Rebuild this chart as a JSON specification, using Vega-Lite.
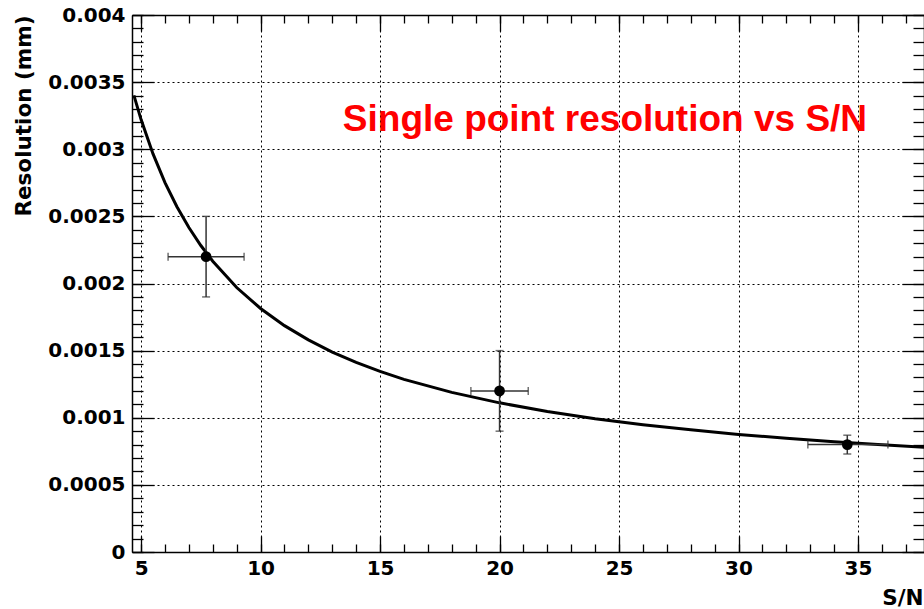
{
  "$schema": "https://vega.github.io/schema/vega-lite/v6.json",
  "width": 792,
  "height": 537,
  "autosize": {"type": "none"},
  "padding": {"left": 132, "top": 15, "right": 0, "bottom": 57},
  "background": "white",
  "config": {
    "view": {"stroke": null},
    "axis": {
      "labelFont": "DejaVu Sans",
      "labelFontWeight": "bold",
      "labelFontSize": 20,
      "labelColor": "black",
      "titleFont": "DejaVu Sans",
      "titleFontWeight": "bold",
      "titleFontSize": 21.5,
      "titleColor": "black",
      "domainColor": "black",
      "domainWidth": 1.5,
      "tickColor": "black",
      "tickWidth": 1.3,
      "gridColor": "black",
      "gridDash": [2, 3],
      "gridWidth": 1,
      "gridOpacity": 1
    }
  },
  "datasets": {
    "curve": [
      {"sn": 4.7, "res": 0.003401},
      {"sn": 5, "res": 0.003221},
      {"sn": 5.5, "res": 0.002965},
      {"sn": 6, "res": 0.002752},
      {"sn": 6.5, "res": 0.002572},
      {"sn": 7, "res": 0.002417},
      {"sn": 7.5, "res": 0.002283},
      {"sn": 8, "res": 0.002166},
      {"sn": 9, "res": 0.00197},
      {"sn": 10, "res": 0.001814},
      {"sn": 11, "res": 0.001686},
      {"sn": 12, "res": 0.00158},
      {"sn": 13, "res": 0.001489},
      {"sn": 14, "res": 0.001412},
      {"sn": 15, "res": 0.001345},
      {"sn": 16, "res": 0.001286},
      {"sn": 18, "res": 0.001189},
      {"sn": 20, "res": 0.001111},
      {"sn": 22, "res": 0.001047},
      {"sn": 24, "res": 0.000993},
      {"sn": 26, "res": 0.000948},
      {"sn": 28, "res": 0.00091},
      {"sn": 30, "res": 0.000876},
      {"sn": 32, "res": 0.000847},
      {"sn": 34, "res": 0.000821},
      {"sn": 36, "res": 0.000798},
      {"sn": 37.8, "res": 0.000779}
    ],
    "pts": [
      {"sn": 7.72, "sn_lo": 6.13, "sn_hi": 9.31, "res": 0.0022, "res_lo": 0.0019, "res_hi": 0.0025},
      {"sn": 20, "sn_lo": 18.8, "sn_hi": 21.2, "res": 0.0012, "res_lo": 0.0009, "res_hi": 0.0015},
      {"sn": 34.55, "sn_lo": 32.9, "sn_hi": 36.25, "res": 0.0008, "res_lo": 0.00073, "res_hi": 0.00087}
    ],
    "note": [
      {"sn": 24.41, "res": 0.003218, "label": "Single point resolution vs S/N"}
    ]
  },
  "resolve": {"axis": {"x": "independent", "y": "independent"}},
  "layer": [
    {
      "data": {"name": "curve"},
      "mark": {"type": "line", "color": "black", "strokeWidth": 3, "clip": true},
      "encoding": {
        "x": {
          "field": "sn", "type": "quantitative",
          "scale": {"domain": [4.62, 37.76], "nice": false, "zero": false},
          "axis": {
            "orient": "bottom", "values": [5, 10, 15, 20, 25, 30, 35],
            "tickSize": -16, "labelPadding": 22, "grid": true,
            "title": "S/N", "titleAnchor": "end", "titleX": 791, "titleAlign": "right", "titlePadding": 9
          }
        },
        "y": {
          "field": "res", "type": "quantitative",
          "scale": {"domain": [0, 0.004], "nice": false, "zero": false},
          "axis": {
            "orient": "left",
            "values": [0, 0.0005, 0.001, 0.0015, 0.002, 0.0025, 0.003, 0.0035, 0.004],
            "format": "~g", "tickSize": -22, "labelPadding": 29, "grid": true,
            "title": "Resolution (mm)", "titleAnchor": "end", "titlePadding": 12
          }
        }
      }
    },
    {
      "data": {"name": "curve"},
      "mark": {"type": "line", "opacity": 0},
      "encoding": {
        "x": {
          "field": "sn", "type": "quantitative",
          "scale": {"domain": [4.62, 37.76], "nice": false, "zero": false},
          "axis": {
            "orient": "bottom",
            "values": [5, 6, 7, 8, 9, 10, 11, 12, 13, 14, 15, 16, 17, 18, 19, 20, 21, 22, 23, 24, 25, 26, 27, 28, 29, 30, 31, 32, 33, 34, 35, 36, 37],
            "tickSize": -8, "labels": false, "domain": false, "grid": false, "title": null
          }
        },
        "y": {
          "field": "res", "type": "quantitative",
          "scale": {"domain": [0, 0.004], "nice": false, "zero": false},
          "axis": {
            "orient": "left",
            "values": [0, 0.0001, 0.0002, 0.0003, 0.0004, 0.0005, 0.0006, 0.0007, 0.0008, 0.0009, 0.001, 0.0011, 0.0012, 0.0013, 0.0014, 0.0015, 0.0016, 0.0017, 0.0018, 0.0019, 0.002, 0.0021, 0.0022, 0.0023, 0.0024, 0.0025, 0.0026, 0.0027, 0.0028, 0.0029, 0.003, 0.0031, 0.0032, 0.0033, 0.0034, 0.0035, 0.0036, 0.0037, 0.0038, 0.0039, 0.004],
            "tickSize": -11, "labels": false, "domain": false, "grid": false, "title": null
          }
        }
      }
    },
    {
      "data": {"name": "curve"},
      "mark": {"type": "line", "opacity": 0},
      "encoding": {
        "x": {
          "field": "sn", "type": "quantitative",
          "scale": {"domain": [4.62, 37.76], "nice": false, "zero": false},
          "axis": {
            "orient": "top", "values": [5, 10, 15, 20, 25, 30, 35],
            "tickSize": -16, "labels": false, "grid": false, "title": null
          }
        },
        "y": {
          "field": "res", "type": "quantitative",
          "scale": {"domain": [0, 0.004], "nice": false, "zero": false},
          "axis": {
            "orient": "right",
            "values": [0, 0.0005, 0.001, 0.0015, 0.002, 0.0025, 0.003, 0.0035, 0.004],
            "tickSize": -22, "labels": false, "grid": false, "title": null
          }
        }
      }
    },
    {
      "data": {"name": "curve"},
      "mark": {"type": "line", "opacity": 0},
      "encoding": {
        "x": {
          "field": "sn", "type": "quantitative",
          "scale": {"domain": [4.62, 37.76], "nice": false, "zero": false},
          "axis": {
            "orient": "top",
            "values": [5, 6, 7, 8, 9, 10, 11, 12, 13, 14, 15, 16, 17, 18, 19, 20, 21, 22, 23, 24, 25, 26, 27, 28, 29, 30, 31, 32, 33, 34, 35, 36, 37],
            "tickSize": -8, "labels": false, "domain": false, "grid": false, "title": null
          }
        },
        "y": {
          "field": "res", "type": "quantitative",
          "scale": {"domain": [0, 0.004], "nice": false, "zero": false},
          "axis": {
            "orient": "right",
            "values": [0, 0.0001, 0.0002, 0.0003, 0.0004, 0.0005, 0.0006, 0.0007, 0.0008, 0.0009, 0.001, 0.0011, 0.0012, 0.0013, 0.0014, 0.0015, 0.0016, 0.0017, 0.0018, 0.0019, 0.002, 0.0021, 0.0022, 0.0023, 0.0024, 0.0025, 0.0026, 0.0027, 0.0028, 0.0029, 0.003, 0.0031, 0.0032, 0.0033, 0.0034, 0.0035, 0.0036, 0.0037, 0.0038, 0.0039, 0.004],
            "tickSize": -11, "labels": false, "domain": false, "grid": false, "title": null
          }
        }
      }
    },
    {
      "data": {"name": "pts"},
      "mark": {"type": "rule", "color": "#333333", "strokeWidth": 1.5},
      "encoding": {
        "x": {"field": "sn_lo", "type": "quantitative", "scale": {"domain": [4.62, 37.76], "nice": false, "zero": false}, "axis": null},
        "x2": {"field": "sn_hi"},
        "y": {"field": "res", "type": "quantitative", "scale": {"domain": [0, 0.004], "nice": false, "zero": false}, "axis": null}
      }
    },
    {
      "data": {"name": "pts"},
      "mark": {"type": "rule", "color": "#333333", "strokeWidth": 1.5},
      "encoding": {
        "x": {"field": "sn", "type": "quantitative", "scale": {"domain": [4.62, 37.76], "nice": false, "zero": false}, "axis": null},
        "y": {"field": "res_lo", "type": "quantitative", "scale": {"domain": [0, 0.004], "nice": false, "zero": false}, "axis": null},
        "y2": {"field": "res_hi"}
      }
    },
    {
      "data": {"name": "pts"},
      "mark": {"type": "tick", "orient": "vertical", "color": "#333333", "thickness": 1.5, "size": 8},
      "encoding": {
        "x": {"field": "sn_lo", "type": "quantitative", "scale": {"domain": [4.62, 37.76], "nice": false, "zero": false}, "axis": null},
        "y": {"field": "res", "type": "quantitative", "scale": {"domain": [0, 0.004], "nice": false, "zero": false}, "axis": null}
      }
    },
    {
      "data": {"name": "pts"},
      "mark": {"type": "tick", "orient": "vertical", "color": "#333333", "thickness": 1.5, "size": 8},
      "encoding": {
        "x": {"field": "sn_hi", "type": "quantitative", "scale": {"domain": [4.62, 37.76], "nice": false, "zero": false}, "axis": null},
        "y": {"field": "res", "type": "quantitative", "scale": {"domain": [0, 0.004], "nice": false, "zero": false}, "axis": null}
      }
    },
    {
      "data": {"name": "pts"},
      "mark": {"type": "tick", "orient": "horizontal", "color": "#333333", "thickness": 1.5, "size": 8},
      "encoding": {
        "x": {"field": "sn", "type": "quantitative", "scale": {"domain": [4.62, 37.76], "nice": false, "zero": false}, "axis": null},
        "y": {"field": "res_lo", "type": "quantitative", "scale": {"domain": [0, 0.004], "nice": false, "zero": false}, "axis": null}
      }
    },
    {
      "data": {"name": "pts"},
      "mark": {"type": "tick", "orient": "horizontal", "color": "#333333", "thickness": 1.5, "size": 8},
      "encoding": {
        "x": {"field": "sn", "type": "quantitative", "scale": {"domain": [4.62, 37.76], "nice": false, "zero": false}, "axis": null},
        "y": {"field": "res_hi", "type": "quantitative", "scale": {"domain": [0, 0.004], "nice": false, "zero": false}, "axis": null}
      }
    },
    {
      "data": {"name": "pts"},
      "mark": {"type": "circle", "color": "black", "opacity": 1, "size": 115},
      "encoding": {
        "x": {"field": "sn", "type": "quantitative", "scale": {"domain": [4.62, 37.76], "nice": false, "zero": false}, "axis": null},
        "y": {"field": "res", "type": "quantitative", "scale": {"domain": [0, 0.004], "nice": false, "zero": false}, "axis": null}
      }
    },
    {
      "data": {"name": "note"},
      "mark": {"type": "text", "color": "#ff0000", "font": "Liberation Sans", "fontWeight": "bold", "fontSize": 37, "align": "center", "baseline": "middle"},
      "encoding": {
        "x": {"field": "sn", "type": "quantitative", "scale": {"domain": [4.62, 37.76], "nice": false, "zero": false}, "axis": null},
        "y": {"field": "res", "type": "quantitative", "scale": {"domain": [0, 0.004], "nice": false, "zero": false}, "axis": null},
        "text": {"field": "label"}
      }
    }
  ]
}
